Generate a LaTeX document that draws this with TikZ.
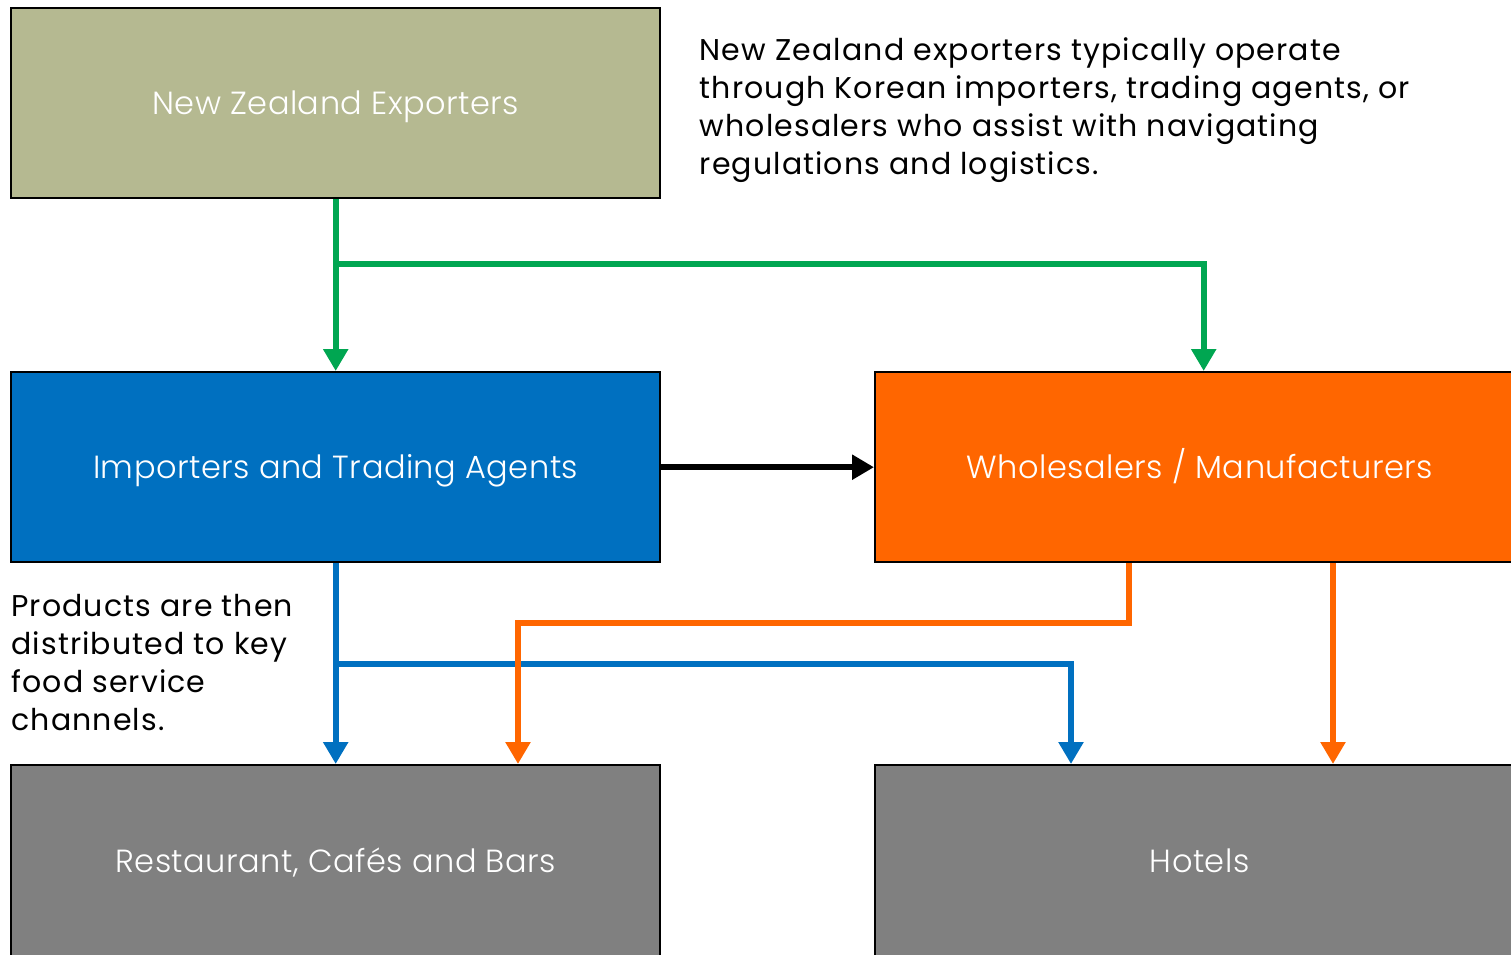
\documentclass[tikz,border=0pt]{standalone}
\usepackage{fontspec}
\setmainfont{Poppins}[LetterSpace=3.7]
\newfontfamily\boxfont{Poppins Light}[LetterSpace=1.5]
\usetikzlibrary{arrows.meta, positioning, calc}
\definecolor{colive}{HTML}{B5B991}
\definecolor{cblue}{HTML}{0070C0}
\definecolor{corange}{HTML}{FF6600}
\definecolor{cgreen}{HTML}{00A651}
\definecolor{cgrey}{HTML}{808080}
\tikzset{
  every picture/.style={font=\fontsize{15pt}{19pt}\selectfont},
  box/.style={draw=black, fill=#1, line width=1.2pt, text=white, align=center, font=\boxfont\fontsize{16pt}{19pt}\selectfont, minimum width=324.5pt, minimum height=95pt, inner sep=0pt, text height=11.2pt, text depth=0pt},
  box/.default=cgrey,
  flow/.style={-{Triangle[width=12pt, length=11pt]}, draw=#1, line width=3pt},
  flow/.default=black,
  note/.style={align=left, inner sep=0pt, text=black},
}
\begin{document}
\begin{tikzpicture}[node distance=85.8pt and 106.3pt]
  \useasboundingbox (0,0) rectangle (755.5pt,-477pt);
  \node[box=colive, anchor=north west] (nz) at (5pt,-3.5pt) {New Zealand Exporters};
  \node[box=cblue, below=of nz] (imp) {Importers and Trading Agents};
  \node[box=corange, right=of imp] (whs) {Wholesalers / Manufacturers};
  \node[box=cgrey, below=100.3pt of imp, minimum height=96pt] (rest) {Restaurant, Cafés and Bars};
  \node[box=cgrey, right=of rest, minimum height=96pt] (hotels) {Hotels};
  \node[note, anchor=north west] (nztext) at ($(nz.north east)+(19pt,-15pt)$) {New Zealand exporters typically operate\\through Korean importers, trading agents, or\\wholesalers who assist with navigating\\regulations and logistics.};
  \node[note, anchor=north west] (chtext) at ($(imp.south west)+(0.5pt,-15pt)$) {Products are then\\distributed to key\\food service\\channels.};
  \coordinate (gsplit) at ($(nz.south)+(0,-32.5pt)$);
  \coordinate (bsplit) at ($(imp.south)+(0,-50.5pt)$);
  \coordinate (oleft) at ($(whs.south west)+(127.5pt,0)$);
  \coordinate (oright) at ($(whs.south west)+(229.5pt,0)$);
  \draw[flow=cgreen] (nz.south) -- (imp.north);
  \draw[flow=cgreen] (gsplit) -| ($(whs.north)+(2pt,0)$);
  \draw[flow] (imp.east) -- (whs.west);
  \draw[flow=cblue] (imp.south) -- (rest.north);
  \draw[flow=cblue] (bsplit) -| ($(hotels.north west)+(98.5pt,0)$);
  \draw[flow=corange] (oleft) |- ++(0,-30pt) -| ($(rest.north west)+(254pt,0)$);
  \draw[flow=corange] (oright) -- (oright |- hotels.north);
\end{tikzpicture}
\end{document}
